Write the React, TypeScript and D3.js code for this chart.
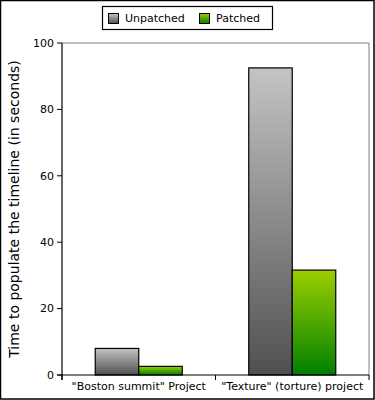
import React from "react";
import * as d3 from "d3";

const categories = ['"Boston summit" Project', '"Texture" (torture) project'];
const seriesNames = ["Unpatched", "Patched"];
const unpatched = [8.0, 92.5];
const patched = [2.6, 31.6];
const yTicks = [0, 20, 40, 60, 80, 100];

const W = 375, H = 400;
const m = { left: 62, right: 369, top: 43, bottom: 375 };

export default function App() {
  const x0 = d3.scaleBand<string>().domain(categories).range([m.left, m.right]).paddingInner(0).paddingOuter(0);
  const inner = d3.scaleBand<string>().domain(seriesNames).range([0, 87]);
  const y = d3.scaleLinear().domain([0, 100]).range([m.bottom, m.top]);
  const series = [unpatched, patched];
  const grads = ["gGray", "gGreen"];
  const font = "DejaVu Sans, sans-serif";
  return (
    <svg width={W} height={H} style={{ position: "absolute", left: 0, top: 0, display: "block" }}>
      <defs>
        <linearGradient id="gGray" x1="0" y1="0" x2="0" y2="1">
          <stop offset="0" stopColor="#c4c4c4" />
          <stop offset="1" stopColor="#505050" />
        </linearGradient>
        <linearGradient id="gGreen" x1="0" y1="0" x2="0" y2="1">
          <stop offset="0" stopColor="#9ccf00" />
          <stop offset="1" stopColor="#007f00" />
        </linearGradient>
      </defs>
      <rect x={0.5} y={0.5} width={W - 1.5} height={H - 1.5} fill="white" stroke="black" strokeWidth={1.5} />
      {/* plot frame */}
      <path d={`M${m.left},${m.top}H${m.right}V${m.bottom}`} fill="none" stroke="#808080" strokeWidth={1} />
      {/* bars */}
      {categories.map((c, ci) => {
        const bw = x0.bandwidth();
        const gx = x0(c)! + (bw - 87) / 2;
        return seriesNames.map((s, si) => (
          <rect
            key={c + s}
            x={gx + inner(s)!}
            y={y(series[si][ci])}
            width={inner.bandwidth()}
            height={m.bottom - y(series[si][ci])}
            fill={`url(#${grads[si]})`}
            stroke="black"
            strokeWidth={1.2}
          />
        ));
      })}
      {/* y axis */}
      <line x1={m.left} x2={m.left} y1={m.top} y2={m.bottom + 5} stroke="black" strokeWidth={1.2} />
      {yTicks.map((t) => (
        <g key={t}>
          <line x1={m.left - 5} x2={m.left} y1={y(t)} y2={y(t)} stroke="black" />
          <text x={m.left - 8} y={y(t)} dy="0.35em" textAnchor="end" fontFamily={font} fontSize={11}>{t}</text>
        </g>
      ))}
      {/* x axis */}
      <line x1={m.left - 5} x2={m.right} y1={m.bottom} y2={m.bottom} stroke="black" strokeWidth={1.2} />
      {[...categories.map((c) => x0(c)!), m.right].map((v, i) => (
        <line key={i} x1={v} x2={v} y1={m.bottom} y2={m.bottom + 5} stroke="black" />
      ))}
      {categories.map((c) => (
        <text key={c} x={x0(c)! + x0.bandwidth() / 2} y={390} textAnchor="middle" fontFamily={font} fontSize={11}>{c}</text>
      ))}
      <text transform={`translate(19,${(m.top + m.bottom) / 2}) rotate(-90)`} textAnchor="middle" fontFamily={font} fontSize={14}>
        Time to populate the timeline (in seconds)
      </text>
      {/* legend */}
      <rect x={102.5} y={6.5} width={170} height={23} fill="white" stroke="black" strokeWidth={1.2} />
      {seriesNames.map((s, i) => {
        const lx = [108, 199][i];
        return (
          <g key={s}>
            <rect x={lx + 0.5} y={13.5} width={10} height={10} fill={`url(#${grads[i]})`} stroke="black" strokeWidth={1} />
            <text x={lx + 17} y={18.5} dy="0.35em" fontFamily={font} fontSize={11}>{s}</text>
          </g>
        );
      })}
    </svg>
  );
}
